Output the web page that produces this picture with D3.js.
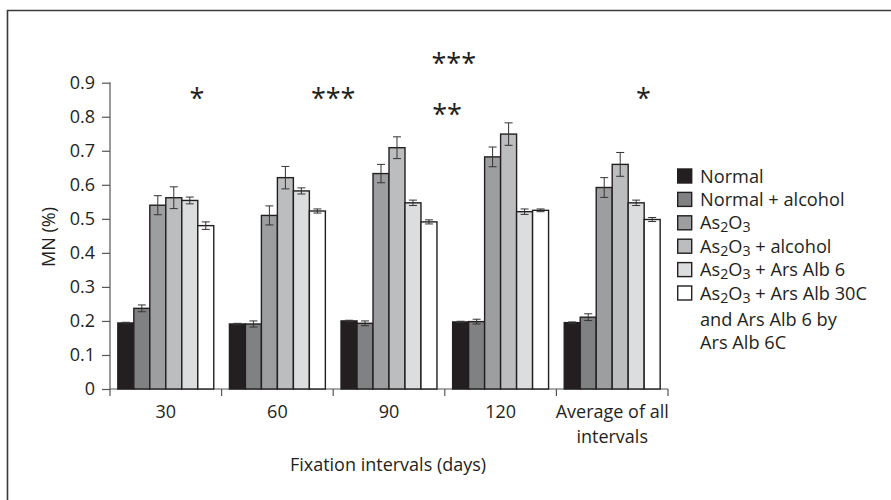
<!DOCTYPE html>
<html>
<head>
<meta charset="utf-8">
<script src="https://cdn.jsdelivr.net/npm/d3@7"></script>
<style>
  html, body { margin: 0; padding: 0; background: #fff; }
  svg { display: block; }
  text { fill: #231f20; }
</style>
</head>
<body>
<svg id="chart" width="891" height="500"></svg>
<script>
// ---------------- data ----------------
const categories = ["30", "60", "90", "120", "Average of all intervals"];
const categoryLabels = [["30"], ["60"], ["90"], ["120"], ["Average of all", "intervals"]];
const seriesNames = ["Normal", "Normal + alcohol", "As2O3", "As2O3 + alcohol", "As2O3 + Ars Alb 6", "As2O3 + Ars Alb 30C"];
const normal           = [0.194, 0.191, 0.200, 0.197, 0.195];
const normalAlcohol    = [0.237, 0.191, 0.193, 0.198, 0.211];
const as2o3            = [0.540, 0.510, 0.633, 0.682, 0.592];
const as2o3Alcohol     = [0.562, 0.621, 0.709, 0.749, 0.660];
const arsAlb6          = [0.554, 0.582, 0.547, 0.521, 0.547];
const arsAlb30         = [0.480, 0.523, 0.491, 0.525, 0.498];
const errNormal        = [0.002, 0.002, 0.002, 0.002, 0.002];
const errNormalAlcohol = [0.010, 0.009, 0.007, 0.007, 0.010];
const errAs2o3         = [0.028, 0.028, 0.027, 0.029, 0.029];
const errAs2o3Alcohol  = [0.032, 0.033, 0.032, 0.033, 0.035];
const errArsAlb6       = [0.010, 0.009, 0.008, 0.008, 0.008];
const errArsAlb30      = [0.011, 0.006, 0.006, 0.004, 0.006];
const yTickValues = [0, 0.1, 0.2, 0.3, 0.4, 0.5, 0.6, 0.7, 0.8, 0.9];
const yTickLabels = ["0", "0.1", "0.2", "0.3", "0.4", "0.5", "0.6", "0.7", "0.8", "0.9"];
// significance marks: category, level (in MN units), text
const sigCategory = ["30", "60", "90", "90", "Average of all intervals"];
const sigLevel    = [0.87, 0.87, 0.973, 0.823, 0.87];
const sigText     = ["*", "***", "***", "**", "*"];
const sigShift    = [0.78, 1.0, 1.08, 1.02, 0.78];   // fraction across the category band
const legendLines = [
  [{t:"Normal"}],
  [{t:"Normal + alcohol"}],
  [{t:"As"},{t:"2",sub:true},{t:"O"},{t:"3",sub:true}],
  [{t:"As"},{t:"2",sub:true},{t:"O"},{t:"3",sub:true},{t:" + alcohol"}],
  [{t:"As"},{t:"2",sub:true},{t:"O"},{t:"3",sub:true},{t:" + Ars Alb 6"}],
  [{t:"As"},{t:"2",sub:true},{t:"O"},{t:"3",sub:true},{t:" + Ars Alb 30C"}]
];
const legendExtra = ["and Ars Alb 6 by", "Ars Alb 6C"];
const colors = ["#231f20", "#808183", "#9d9ea0", "#bcbdbf", "#dcddde", "#ffffff"];

const values = [normal, normalAlcohol, as2o3, as2o3Alcohol, arsAlb6, arsAlb30];
const errors = [errNormal, errNormalAlcohol, errAs2o3, errAs2o3Alcohol, errArsAlb6, errArsAlb30];

// ---------------- layout ----------------
const FONT = '"Open Sans", "Noto Sans", sans-serif';
const svg = d3.select("#chart").style("font-family", FONT);
const plotLeft = 110, plotRight = 668, plotTop = 82.7, plotBottom = 389;
const fs = 18, legFs = 18.2;

// outer frame
svg.append("path")
  .attr("d", `M7.5,500 L7.5,10.5 L891,10.5`)
  .attr("fill", "none").attr("stroke", "#3a3a3a").attr("stroke-width", 1.6);

const x0 = d3.scaleBand().domain(categories).range([plotLeft, plotRight]).paddingInner(0).paddingOuter(0);
const x1 = d3.scaleBand().domain(d3.range(seriesNames.length)).range([0, x0.bandwidth()]).paddingInner(0).paddingOuter(0.49);
const y = d3.scaleLinear().domain([0, 0.9]).range([plotBottom, plotTop]);

// y axis
const yAxis = d3.axisLeft(y).tickValues(yTickValues).tickFormat((d, i) => yTickLabels[i]).tickSize(8).tickPadding(7);
const gy = svg.append("g").attr("transform", `translate(${plotLeft},0)`).call(yAxis);
gy.attr("font-family", null).attr("font-size", null);
gy.select(".domain").attr("d", `M0,${plotTop - 0.5}V${plotBottom}`).attr("stroke", "#555").attr("stroke-width", 1.2);
gy.selectAll(".tick line").attr("stroke", "#555").attr("stroke-width", 1.2);
gy.selectAll(".tick text").style("font-size", fs + "px").style("font-family", FONT).attr("fill", "#231f20");

// x axis (separator ticks at band edges)
const edges = categories.map(c => x0(c)).concat([plotRight]);
const gx = svg.append("g");
gx.append("line").attr("x1", plotLeft).attr("x2", plotRight).attr("y1", plotBottom).attr("y2", plotBottom)
  .attr("stroke", "#555").attr("stroke-width", 1.2);
gx.selectAll("line.sep").data(edges).enter().append("line").attr("class", "sep")
  .attr("x1", d => d).attr("x2", d => d).attr("y1", plotBottom).attr("y2", plotBottom + 7)
  .attr("stroke", "#555").attr("stroke-width", 1.2);
gx.selectAll("text.cat").data(categories).enter().append("text").attr("class", "cat")
  .attr("x", d => x0(d) + x0.bandwidth() / 2)
  .attr("y", plotBottom + 29)
  .attr("text-anchor", "middle").style("font-size", fs + "px")
  .each(function(d, i) {
    const t = d3.select(this);
    categoryLabels[i].forEach((line, k) => {
      t.append("tspan").attr("x", x0(d) + x0.bandwidth() / 2).attr("dy", k === 0 ? 0 : 24.5).text(line);
    });
  });

// axis titles
svg.append("text").attr("x", 388).attr("y", 471)
  .attr("text-anchor", "middle").style("font-size", fs + "px").text("Fixation intervals (days)");
svg.append("text").attr("transform", `translate(54.5,237) rotate(-90)`)
  .attr("text-anchor", "middle").style("font-size", fs + "px").text("MN (%)");

// bars
const groups = svg.append("g").selectAll("g").data(categories).enter().append("g")
  .attr("transform", d => `translate(${x0(d)},0)`);
groups.each(function(cat, ci) {
  const g = d3.select(this);
  const rows = seriesNames.map((s, si) => ({si, v: values[si][ci], e: errors[si][ci]}));
  g.selectAll("rect").data(rows).enter().append("rect")
    .attr("x", d => x1(d.si))
    .attr("y", d => y(d.v))
    .attr("width", x1.bandwidth())
    .attr("height", d => y(0) - y(d.v))
    .attr("fill", d => colors[d.si])
    .attr("stroke", "#231f20").attr("stroke-width", 1.4);
  const eb = g.selectAll("g.err").data(rows).enter().append("g").attr("class", "err")
    .attr("stroke", "#333").attr("stroke-width", 1);
  eb.append("line")
    .attr("x1", d => x1(d.si) + x1.bandwidth() / 2).attr("x2", d => x1(d.si) + x1.bandwidth() / 2)
    .attr("y1", d => y(d.v + d.e)).attr("y2", d => y(d.v - d.e));
  eb.append("line")
    .attr("x1", d => x1(d.si) + x1.bandwidth() / 2 - 4).attr("x2", d => x1(d.si) + x1.bandwidth() / 2 + 4)
    .attr("y1", d => y(d.v + d.e)).attr("y2", d => y(d.v + d.e));
  eb.append("line")
    .attr("x1", d => x1(d.si) + x1.bandwidth() / 2 - 4).attr("x2", d => x1(d.si) + x1.bandwidth() / 2 + 4)
    .attr("y1", d => y(d.v - d.e)).attr("y2", d => y(d.v - d.e));
});

// significance asterisks
const starSize = 27;
svg.append("g").selectAll("text").data(sigText).enter().append("text")
  .attr("x", (d, i) => x0(sigCategory[i]) + x0.bandwidth() * sigShift[i])
  .attr("y", (d, i) => y(sigLevel[i]) + starSize * 0.56)
  .attr("text-anchor", "middle").style("font-size", starSize + "px")
  .text(d => d);

// legend
const legX = 677, legY0 = 176, legStep = 23.4;
const leg = svg.append("g");
legendLines.forEach((parts, i) => {
  const cy = legY0 + i * legStep;
  leg.append("rect").attr("x", legX + 0.7).attr("y", cy - 7).attr("width", 14).attr("height", 14)
    .attr("fill", colors[i]).attr("stroke", "#231f20").attr("stroke-width", 1.4);
  const t = leg.append("text").attr("x", legX + 23).attr("y", cy + 6.5).style("font-size", legFs + "px");
  parts.forEach(p => {
    const ts = t.append("tspan").text(p.t);
    if (p.sub) ts.style("font-size", (legFs * 0.78) + "px").attr("dy", 3);
    else if (t.selectAll("tspan").size() > 1) ts.attr("dy", -3);
  });
});
legendExtra.forEach((line, k) => {
  leg.append("text").attr("x", legX + 23).attr("y", legY0 + (legendLines.length + k) * legStep + 6.5 + 3)
    .style("font-size", legFs + "px").text(line);
});
</script>
</body>
</html>
